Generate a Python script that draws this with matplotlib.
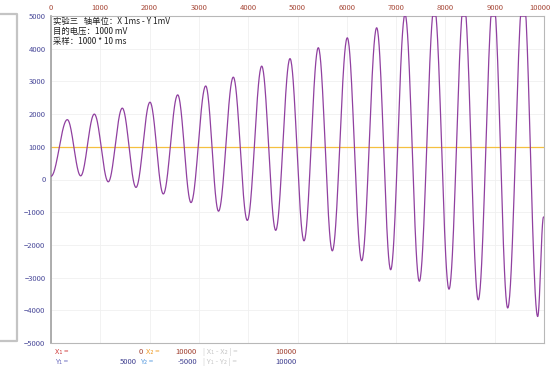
import numpy as np
import matplotlib.pyplot as plt
import matplotlib.transforms as mtransforms

plt.rcParams['font.family'] = ['Noto Sans CJK SC', 'DejaVu Sans']

peak_t = [331, 878, 1446, 2008, 2570, 3138, 3698, 4274, 4848, 5422,
          6010, 6606, 7181, 7775, 8377, 8972, 9580]
peak_v = [1830, 2000, 2182, 2364, 2588, 2860, 3130, 3467, 3697, 4030,
          4333, 4640, 5050, 5300, 5450, 5600, 5800]
trough_t = [602, 1162, 1724, 2278, 2840, 3398, 3982, 4558, 5132, 5706,
            6302, 6890, 7471, 8073, 8667, 9264, 9872]
trough_v = [112, -70, -242, -442, -706, -970, -1252, -1555, -1876, -2182,
            -2485, -2760, -3112, -3355, -3680, -3930, -4190]
start_t, start_v = 0, 100
end_t, end_v = 9990, -1150
target_mv = 1000
sat_mv = 5000

x_ticks = np.arange(0, 10001, 1000)
y_ticks = np.arange(-5000, 5001, 1000)

# join extrema with half-cosine segments
kt = [start_t]
kv = [start_v]
for pt, pv, tt, tv in zip(peak_t, peak_v, trough_t, trough_v):
    kt += [pt, tt]
    kv += [pv, tv]
kt.append(end_t)
kv.append(end_v)

t = []
v = []
for i in range(len(kt) - 1):
    s = np.linspace(0, 1, 40, endpoint=False)
    w = (1 - np.cos(np.pi * s)) / 2
    t.append(kt[i] + (kt[i + 1] - kt[i]) * s)
    v.append(kv[i] + (kv[i + 1] - kv[i]) * w)
t = np.concatenate(t + [[end_t]])
v = np.concatenate(v + [[end_v]])
v = np.minimum(v, sat_mv)

fig = plt.figure(figsize=(5.54, 3.74), dpi=100)
ax = fig.add_axes([51 / 554, 1 - 343 / 374, 493 / 554, 327 / 374])

ax.plot(t, v, color="#9040a0", linewidth=0.9, zorder=3)
ax.axhline(target_mv, color="#f5c040", linewidth=0.9, zorder=2)

ax.set_xlim(0, 10000)
ax.set_ylim(-5000, 5000)
ax.set_xticks(x_ticks)
ax.set_yticks(y_ticks)
ax.xaxis.tick_top()
ax.tick_params(axis="x", length=0, pad=3, labelsize=5.5, labelcolor="#a84a3a")
ax.tick_params(axis="y", length=0, pad=4, labelsize=5.5, labelcolor="#4a4a9a")
ax.grid(color="#f0f0f0", linewidth=0.6)
for side in ["top", "right", "bottom"]:
    ax.spines[side].set_color("#b8b8b8")
ax.spines["left"].set_color("#a0a0a0")
ax.spines["left"].set_linewidth(1.2)

# keep the last top label inside the picture
fig.canvas.draw()
last = ax.get_xticklabels()[-1]
last.set_transform(last.get_transform() +
                   mtransforms.ScaledTranslation(-4 / 100, 0, fig.dpi_scale_trans))

ax.text(0.005, 0.996, "实验三   轴单位：X 1ms - Y 1mV\n目的电压：1000 mV\n采样：1000 * 10 ms",
        transform=ax.transAxes, ha="left", va="top", fontsize=6,
        linespacing=1.1, color="#202020")

# side bracket
fig.add_artist(plt.Line2D([0, 17 / 554, 17 / 554, 0],
                          [1 - 14 / 374, 1 - 14 / 374, 1 - 341 / 374, 1 - 341 / 374],
                          color="#c4c4c4", linewidth=1.6))

# readout rows
def put(x, y, s, c, ha="left"):
    fig.text(x / 554, 1 - y / 374, s, color=c, fontsize=5.5, ha=ha, va="center")

r1, r2 = 352, 362
put(55, r1, "X₁ =", "#d04040")
put(143, r1, "0", "#a04030", "right")
put(146, r1, "X₂ =", "#f0a030")
put(197, r1, "10000", "#a04030", "right")
put(203, r1, "| X₁ - X₂ | =", "#c8c8c8")
put(297, r1, "10000", "#a04030", "right")
put(55, r2, "Y₁ =", "#7070c0")
put(137, r2, "5000", "#404090", "right")
put(140, r2, "Y₂ =", "#60a0e0")
put(197, r2, "-5000", "#404090", "right")
put(203, r2, "| Y₁ - Y₂ | =", "#c8c8c8")
put(297, r2, "10000", "#404090", "right")

plt.savefig("out.png", dpi=100)
